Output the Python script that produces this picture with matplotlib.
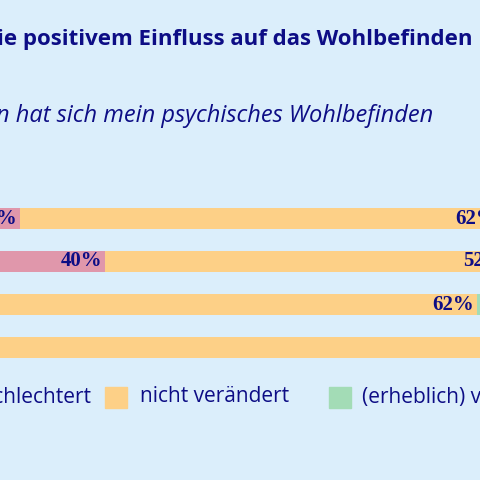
import matplotlib
matplotlib.use("Agg")
import matplotlib.pyplot as plt
from matplotlib.patches import Rectangle

rows = ["A", "B", "C", "D"]
schlechter = [29, 40, 26, 20]
unveraendert = [62, 52, 62, 75]
besser = [9, 8, 12, 5]

BG = "#dbeefb"; PINK = "#e097ab"; YEL = "#fdd087"; GRN = "#a3dcb6"; NAVY = "#0d0d85"
W = H = 480
fig = plt.figure(figsize=(4.8, 4.8), dpi=100, facecolor=BG)

def fx(px): return px / W
def fy(py): return 1 - py / H

ax = fig.add_axes([fx(-205), fy(369), 775 / W, 172 / H])
ax.set_facecolor(BG)
ax.set_xlim(0, 100); ax.set_ylim(3.5, -0.5); ax.axis("off")
y = list(range(len(rows)))
ax.barh(y, schlechter, height=0.49, color=PINK)
ax.barh(y, unveraendert, left=schlechter, height=0.49, color=YEL)
lefts = [a + b for a, b in zip(schlechter, unveraendert)]
ax.barh(y, besser, left=lefts, height=0.49, color=GRN)
nf = dict(family=["Liberation Serif", "DejaVu Serif"], weight="bold", fontsize=15, color=NAVY, va="center", ha="right")
for i in y:
    if i < 3:
        ax.text(schlechter[i] - 0.4, i, f"{schlechter[i]}%", **nf)
        ax.text(lefts[i] - 0.4, i, f"{unveraendert[i]}%", **nf)

fig.text(fx(-3), fy(40), "ie positivem Einfluss auf das Wohlbefinden", fontsize=16,
         weight="bold", family="Open Sans", color=NAVY, va="center", ha="left")
fig.text(fx(-4), fy(116), "n hat sich mein psychisches Wohlbefinden", fontsize=17,
         style="italic", family="Open Sans", color=NAVY, va="center", ha="left")

lf = dict(fontsize=15, family="Open Sans", color=NAVY, va="center")
fig.text(fx(91), fy(397), "(erheblich) verschlechtert", ha="right", **lf)
fig.patches.append(Rectangle((fx(105), fy(408)), 22 / W, 21 / H, transform=fig.transFigure, color=YEL))
fig.text(fx(140), fy(397), "nicht verändert", ha="left", **lf)
fig.patches.append(Rectangle((fx(329), fy(408)), 22 / W, 21 / H, transform=fig.transFigure, color=GRN))
fig.text(fx(362), fy(397), "(erheblich) verbessert", ha="left", **lf)

fig.savefig("out.png", dpi=100, facecolor=BG)
